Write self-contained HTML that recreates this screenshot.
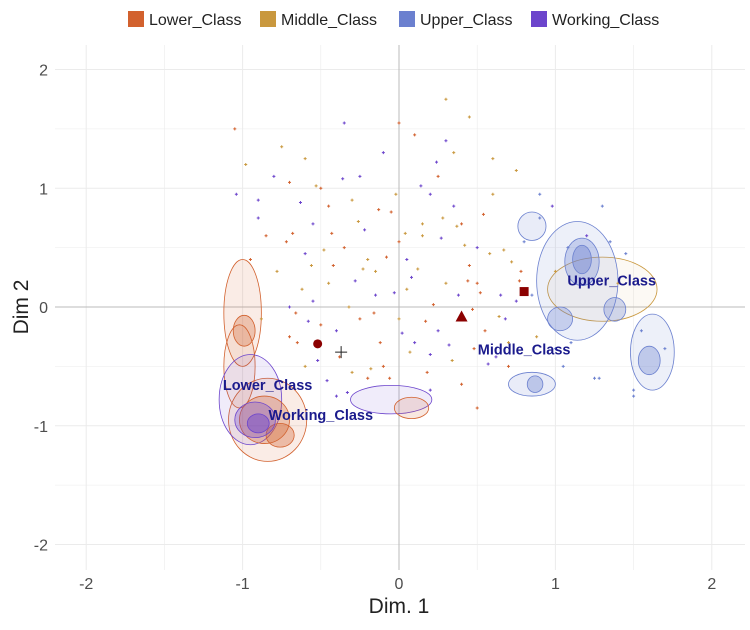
<!DOCTYPE html>
<html><head><meta charset="utf-8"><style>
body{margin:0;background:#fff;font-family:"Liberation Sans",sans-serif}
</style></head><body>
<svg id="chart" width="750" height="625" xmlns="http://www.w3.org/2000/svg" font-family="Liberation Sans, sans-serif">
<g id="legend"></g>
<g id="grid"></g>
<g id="dens"></g>
<g id="pts"></g>
<g id="sup"></g>
<text x="399" y="613" font-size="21" text-anchor="middle" fill="#222">Dim. 1</text>
<text x="28" y="307" font-size="21" text-anchor="middle" fill="#222" transform="rotate(-90 28 307)">Dim 2</text>
</svg>
<script>
const classes=["Lower_Class","Middle_Class","Upper_Class","Working_Class"];
const colors=["#d2612e","#c9983e","#6b80cf","#6c45cc"];
const xTicks=[-2,-1,0,1,2];
const yTicks=[-2,-1,0,1,2];
// ellipses: cx, cy, rx, ry, classIndex, fillOpacity
const contours=[
[-1.0,-0.05,0.12,0.45,0,0.12],[-0.84,-0.95,0.25,0.35,0,0.12],[-1.02,-0.5,0.1,0.35,0,0.1],
[-0.95,-0.78,0.2,0.38,3,0.1],
[-0.99,-0.2,0.07,0.13,0,0.3],[-0.86,-0.95,0.16,0.2,0,0.3],[-0.76,-1.08,0.09,0.1,0,0.35],
[-0.92,-0.95,0.13,0.15,3,0.3],[-0.9,-0.98,0.07,0.08,3,0.45],
[-0.05,-0.78,0.26,0.12,3,0.1],[0.08,-0.85,0.11,0.09,0,0.15],
[1.3,0.15,0.35,0.27,1,0.06],
[0.85,0.68,0.09,0.12,2,0.15],[1.14,0.22,0.26,0.5,2,0.12],[1.62,-0.38,0.14,0.32,2,0.12],[0.85,-0.65,0.15,0.1,2,0.15],
[1.17,0.38,0.11,0.2,2,0.3],[1.17,0.4,0.06,0.12,2,0.4],[1.6,-0.45,0.07,0.12,2,0.35],[1.38,-0.02,0.07,0.1,2,0.3],[1.03,-0.1,0.08,0.1,2,0.3],[0.87,-0.65,0.05,0.07,2,0.35]
];
const pointX=[-1.05,-0.98,-0.9,-0.85,-0.78,-0.7,-0.65,-0.6,-0.55,-0.5,-0.45,-0.4,-0.35,-0.3,-0.25,-0.2,-0.15,-0.1,-0.05,0.0,0.05,0.1,0.15,0.2,0.25,0.3,0.35,0.4,0.45,0.5,0.55,0.6,0.65,0.7,0.75,0.8,0.9,1.0,1.1,1.2,1.3,1.4,1.5,
-1.04,-0.95,-0.88,-0.8,-0.72,-0.62,-0.52,-0.42,-0.32,-0.22,-0.12,-0.02,0.08,0.18,0.28,0.38,0.48,0.58,0.68,0.78,0.88,0.98,1.08,1.28,1.45,1.55,
-0.75,-0.6,-0.45,-0.3,-0.15,0.0,0.15,0.3,0.45,0.6,0.75,-0.5,-0.2,0.1,0.4,0.7,-0.35,0.0,0.35,-0.55,-0.25,0.05,0.25,0.5,-0.9,-0.7,0.85,1.05,-0.6,0.2,
-0.68,-0.58,-0.48,-0.38,-0.28,-0.18,-0.08,0.02,0.12,0.22,0.32,0.42,0.52,0.62,0.72,-0.63,-0.43,-0.23,-0.03,0.17,0.37,0.57,0.77,-0.53,-0.33,-0.13,0.07,0.27,0.47,0.67,
-0.66,-0.46,-0.26,-0.06,0.14,0.34,0.54,-0.56,-0.36,-0.16,0.04,0.24,0.44,0.64,-0.4,-0.1,0.2,0.5,0.3,-0.7,0.9,1.0,1.25,1.35,1.5,1.7];
const pointY=[1.5,1.2,0.9,0.6,0.3,0.0,-0.3,-0.5,0.7,1.0,0.2,-0.2,0.5,0.9,1.1,-0.6,0.3,1.3,0.8,-0.1,0.4,1.45,0.6,-0.4,1.1,0.2,0.85,-0.65,1.6,0.5,-0.2,0.95,0.1,-0.5,1.15,0.55,0.75,0.3,-0.3,0.6,0.85,0.2,-0.7,
0.95,0.4,-0.1,1.1,0.55,0.15,-0.45,0.35,0.0,0.65,-0.3,0.95,0.25,-0.55,0.75,0.1,-0.35,0.45,-0.1,0.3,-0.25,0.85,0.5,-0.6,0.45,-0.2,
1.35,0.45,0.85,-0.55,0.1,1.55,0.7,1.4,0.35,1.25,0.05,-0.15,0.4,-0.3,0.7,-0.3,1.55,0.55,1.3,0.05,-0.1,0.15,-0.2,0.2,0.75,-0.25,0.1,-0.5,1.25,0.95,
0.62,-0.12,0.48,-0.42,0.22,-0.52,0.42,-0.22,0.32,0.02,-0.32,0.52,0.12,-0.42,0.38,0.88,0.62,0.32,0.12,-0.12,0.68,-0.48,0.22,1.02,-0.72,0.82,-0.38,0.58,-0.02,0.48,
-0.05,-0.62,0.72,-0.6,1.02,-0.45,0.78,0.35,1.08,-0.05,0.62,1.22,0.22,-0.08,-0.75,-0.5,-0.7,-0.85,1.75,1.05,0.95,-0.35,-0.6,0.55,-0.75,-0.35];
const pointClass=[0,1,3,0,1,3,0,1,3,0,1,3,0,1,3,0,1,3,0,1,3,0,1,3,0,1,3,0,1,3,0,1,3,0,1,2,2,1,2,3,2,1,2,
3,0,1,3,0,1,3,0,1,3,0,1,3,0,1,3,0,1,3,0,1,3,2,2,2,2,
1,3,0,1,3,0,1,3,0,1,3,0,1,3,0,1,3,0,1,3,0,1,3,0,3,0,2,2,1,3,
0,3,1,0,3,1,0,3,1,0,3,1,0,3,1,3,0,1,3,0,1,3,0,1,3,0,1,3,0,1,
0,3,1,0,3,1,0,1,3,0,1,3,0,1,3,0,3,0,1,0,2,2,2,2,2,2];
const supX=[-0.52,-0.37,0.4,0.8];
const supY=[-0.31,-0.38,-0.08,0.13];
const supShape=["circle","plus","triangle","square"];
const labelText=["Lower_Class","Middle_Class","Upper_Class","Working_Class"];
const labelX=[-0.84,0.8,1.36,-0.5];
const labelY=[-0.7,-0.4,0.18,-0.95];

const NS="http://www.w3.org/2000/svg";
const sx=v=>399+v*156.4, sy=v=>307-v*118.75;
function mk(t,a,p){const e=document.createElementNS(NS,t);for(const k in a)e.setAttribute(k,a[k]);p.appendChild(e);return e;}
const grid=document.getElementById('grid');
for(let v=-2.5;v<=2.5;v+=0.5){
 const major=Number.isInteger(v);
 if(v>=-2.2&&v<=2.2){const l=mk('line',{x1:sx(v),x2:sx(v),y1:45,y2:570,stroke:'#ebebeb','stroke-width':major?1:0.6},grid);
 
 }
 if(sy(v)>=45&&sy(v)<=570){const l2=mk('line',{x1:55,x2:745,y1:sy(v),y2:sy(v),stroke:'#ebebeb','stroke-width':major?1:0.6},grid);
 
 }
}
mk('line',{x1:sx(0),x2:sx(0),y1:45,y2:570,stroke:'#bbb'},grid);
mk('line',{x1:55,x2:745,y1:sy(0),y2:sy(0),stroke:'#bbb'},grid);
xTicks.forEach(v=>{const t=mk('text',{x:sx(v),y:589,'font-size':16,'text-anchor':'middle',fill:'#4d4d4d'},grid);t.textContent=v;
 
 });
yTicks.forEach(v=>{const t=mk('text',{x:48,y:sy(v)+6,'font-size':16,'text-anchor':'end',fill:'#4d4d4d'},grid);t.textContent=v;
 
 });
const dens=document.getElementById('dens');
contours.forEach(c=>{const e=mk('ellipse',{cx:sx(c[0]),cy:sy(c[1]),rx:c[2]*156.4,ry:c[3]*118.75,fill:colors[c[4]],'fill-opacity':c[5],stroke:colors[c[4]],'stroke-width':0.8},dens);
 
 });
const pts=document.getElementById('pts');
pointX.forEach((x,i)=>{const px=sx(x),py=sy(pointY[i]);
 const p=mk('path',{d:`M${px-1.5} ${py}h3M${px} ${py-1.5}v3`,stroke:colors[pointClass[i]],'stroke-width':1},pts);
 
 });
const sup=document.getElementById('sup');
supX.forEach((x,i)=>{const px=sx(x),py=sy(supY[i]);let e;
 if(supShape[i]=='circle')e=mk('circle',{cx:px,cy:py,r:4.5,fill:'#8b0000'},sup);
 else if(supShape[i]=='plus')e=mk('path',{d:`M${px-6} ${py}h12M${px} ${py-6}v12`,stroke:'#222','stroke-width':1},sup);
 else if(supShape[i]=='triangle')e=mk('path',{d:`M${px} ${py-6}L${px+6} ${py+5}L${px-6} ${py+5}Z`,fill:'#8b0000'},sup);
 else e=mk('rect',{x:px-4.5,y:py-4.5,width:9,height:9,fill:'#8b0000'},sup);
 
 });
labelText.forEach((s,i)=>{const t=mk('text',{x:sx(labelX[i]),y:sy(labelY[i]),'font-size':14.5,'font-weight':'bold','text-anchor':'middle',fill:'#1a1a8c'},sup);t.textContent=s;
 
 });
const lg=document.getElementById('legend');
const lgX=[128,260,399,531];
classes.forEach((s,i)=>{
 const r=mk('rect',{x:lgX[i],y:11,width:16,height:16,fill:colors[i]},lg);
 
 
 const t=mk('text',{x:lgX[i]+21,y:25,'font-size':16,fill:'#222'},lg);t.textContent=s;
 
 });
</script>
</body></html>
